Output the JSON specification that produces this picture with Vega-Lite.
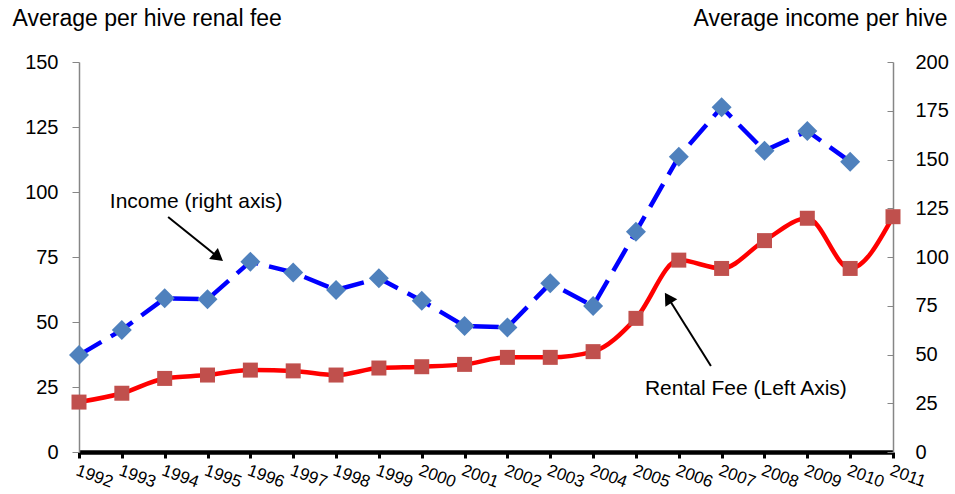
{
  "$schema": "https://vega.github.io/schema/vega-lite/v6.json",
  "width": 814,
  "height": 390,
  "autosize": {"type": "none"},
  "padding": {"left": 79, "top": 62, "right": 62, "bottom": 42},
  "config": {
    "font": "Liberation Sans",
    "view": {"stroke": null},
    "axis": {"grid": false, "labelFont": "Liberation Sans", "titleFont": "Liberation Sans", "labelColor": "#000", "titleColor": "#000", "titleFontWeight": "normal"}
  },
  "datasets": {
    "fee": [
      {"year": 1992, "fee": 19.2}, {"year": 1993, "fee": 22.6}, {"year": 1994, "fee": 28.3}, {"year": 1995, "fee": 29.6},
      {"year": 1996, "fee": 31.5}, {"year": 1997, "fee": 31.2}, {"year": 1998, "fee": 29.6}, {"year": 1999, "fee": 32.3},
      {"year": 2000, "fee": 32.8}, {"year": 2001, "fee": 33.7}, {"year": 2002, "fee": 36.4}, {"year": 2003, "fee": 36.4},
      {"year": 2004, "fee": 38.6}, {"year": 2005, "fee": 51.4}, {"year": 2006, "fee": 73.8}, {"year": 2007, "fee": 70.6},
      {"year": 2008, "fee": 81.3}, {"year": 2009, "fee": 89.9}, {"year": 2010, "fee": 70.6}, {"year": 2011, "fee": 90.5}
    ],
    "income": [
      {"year": 1992, "income": 49.7}, {"year": 1993, "income": 62.6}, {"year": 1994, "income": 78.8}, {"year": 1995, "income": 78.3},
      {"year": 1996, "income": 97.6}, {"year": 1997, "income": 92.1}, {"year": 1998, "income": 83.1}, {"year": 1999, "income": 89.1},
      {"year": 2000, "income": 77.6}, {"year": 2001, "income": 64.6}, {"year": 2002, "income": 63.9}, {"year": 2003, "income": 86.5},
      {"year": 2004, "income": 74.9}, {"year": 2005, "income": 113}, {"year": 2006, "income": 151.4}, {"year": 2007, "income": 176.8},
      {"year": 2008, "income": 154.5}, {"year": 2009, "income": 164.6}, {"year": 2010, "income": 148.9}
    ],
    "notes": [
      {"id": "income", "text": "Income (right axis)", "x": 1992.72, "y": 94.0},
      {"id": "fee", "text": "Rental Fee (Left Axis)", "x": 2005.21, "y": 21.9}
    ],
    "arrows": [
      {"id": "income", "x": 1994.08, "y": 90.4, "x2": 1995.25, "y2": 74.9},
      {"id": "fee", "x": 2006.75, "y": 33.1, "x2": 2005.75, "y2": 59.3}
    ]
  },
  "layer": [
    {
      "layer": [
        {
          "data": {"name": "fee"},
          "mark": {"type": "line", "color": "#FF0000", "strokeWidth": 4.5, "interpolate": "monotone"},
          "encoding": {
            "x": {"field": "year", "type": "quantitative", "scale": {"domain": [1992, 2011], "nice": false, "zero": false},
              "axis": {"title": null, "values": [1992,1993,1994,1995,1996,1997,1998,1999,2000,2001,2002,2003,2004,2005,2006,2007,2008,2009,2010,2011],
                "format": "d", "labelAngle": 20, "labelAlign": "left", "labelBaseline": "top", "labelFontSize": 17, "labelPadding": 4,
                "labelOverlap": false, "labelBound": false, "labelFlush": false,
                "domainColor": "#000", "domainWidth": 4.5, "tickColor": "#000", "tickWidth": 3, "tickSize": 6}},
            "y": {"field": "fee", "type": "quantitative", "scale": {"domain": [0, 150], "nice": false},
              "axis": {"title": "Average per hive renal fee", "titleAngle": 0, "titleAlign": "left", "titleBaseline": "alphabetic",
                "titleX": -67, "titleY": -37, "titleFontSize": 23, "values": [0,25,50,75,100,125,150], "labelFontSize": 20,
                "tickSize": 7, "tickColor": "#868686", "domainColor": "#868686", "domainWidth": 1.5, "labelPadding": 14}}
          }
        },
        {
          "data": {"name": "fee"},
          "mark": {"type": "point", "shape": "square", "filled": true, "size": 225, "color": "#C0504D", "opacity": 1, "strokeWidth": 0},
          "encoding": {
            "x": {"field": "year", "type": "quantitative"},
            "y": {"field": "fee", "type": "quantitative"}
          }
        },
        {
          "data": {"name": "notes"},
          "mark": {"type": "text", "align": "left", "baseline": "alphabetic", "fontSize": 21, "color": "#000"},
          "encoding": {
            "x": {"field": "x", "type": "quantitative"},
            "y": {"field": "y", "type": "quantitative"},
            "text": {"field": "text"}
          }
        },
        {
          "data": {"name": "arrows"},
          "mark": {"type": "rule", "color": "#000", "strokeWidth": 2},
          "encoding": {
            "x": {"field": "x", "type": "quantitative"},
            "y": {"field": "y", "type": "quantitative"},
            "x2": {"field": "x2"},
            "y2": {"field": "y2"}
          }
        },
        {
          "data": {"name": "arrows"},
          "transform": [{"filter": "datum.id === 'income'"}],
          "mark": {"type": "point", "shape": "triangle-up", "filled": true, "size": 196, "color": "#000", "opacity": 1, "angle": 128.5},
          "encoding": {
            "x": {"field": "x2", "type": "quantitative"},
            "y": {"field": "y2", "type": "quantitative"}
          }
        },
        {
          "data": {"name": "arrows"},
          "transform": [{"filter": "datum.id === 'fee'"}],
          "mark": {"type": "point", "shape": "triangle-up", "filled": true, "size": 196, "color": "#000", "opacity": 1, "angle": 328},
          "encoding": {
            "x": {"field": "x2", "type": "quantitative"},
            "y": {"field": "y2", "type": "quantitative"}
          }
        }
      ]
    },
    {
      "layer": [
        {
          "data": {"name": "income"},
          "mark": {"type": "line", "color": "#0000FF", "strokeWidth": 4.5, "strokeDash": [26, 11]},
          "encoding": {
            "x": {"field": "year", "type": "quantitative"},
            "y": {"field": "income", "type": "quantitative", "scale": {"domain": [0, 200], "nice": false},
              "axis": {"orient": "right", "title": "Average income per hive", "titleAngle": 0, "titleAlign": "right", "titleBaseline": "alphabetic",
                "titleX": 54, "titleY": -37, "titleFontSize": 23, "values": [0,25,50,75,100,125,150,175,200], "labelFontSize": 20,
                "tickSize": -6, "tickColor": "#868686", "domainColor": "#868686", "domainWidth": 1.5, "labelPadding": 28}}
          }
        },
        {
          "data": {"name": "income"},
          "mark": {"type": "point", "shape": "diamond", "filled": true, "size": 400, "color": "#4F81BD", "opacity": 1, "strokeWidth": 0},
          "encoding": {
            "x": {"field": "year", "type": "quantitative"},
            "y": {"field": "income", "type": "quantitative"}
          }
        }
      ]
    }
  ],
  "resolve": {"scale": {"y": "independent"}}
}
